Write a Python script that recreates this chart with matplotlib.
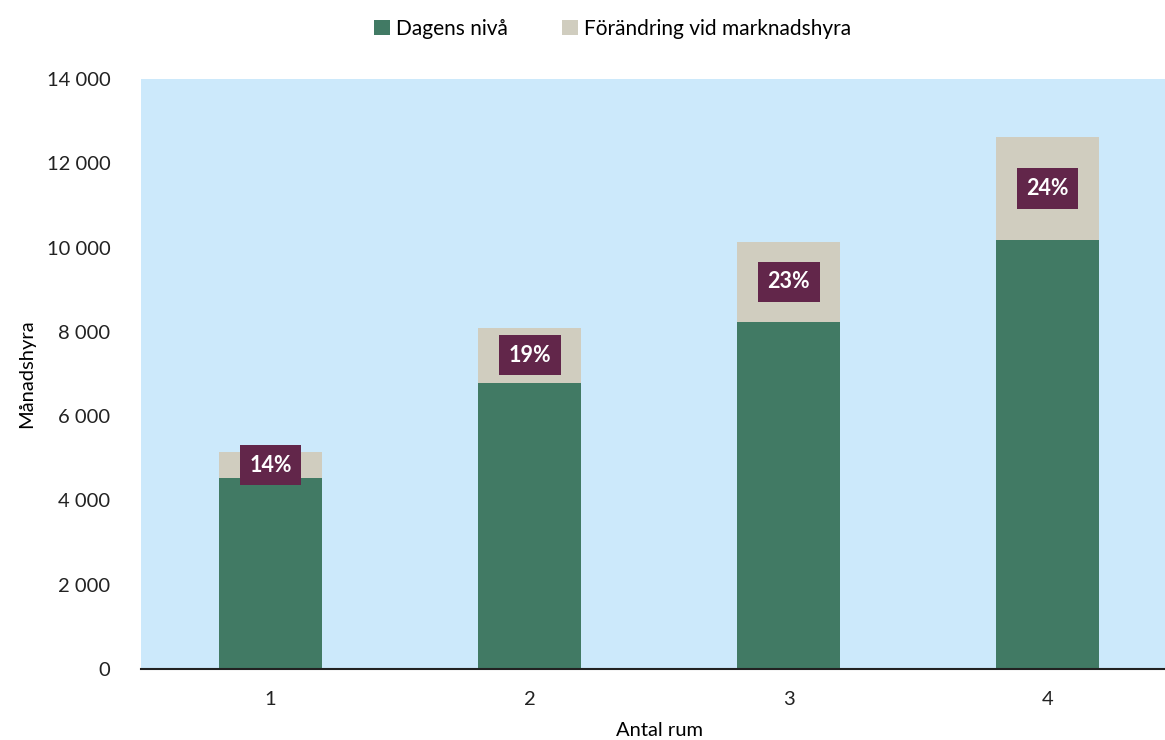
import matplotlib
matplotlib.use('Agg')
import matplotlib.pyplot as plt
import numpy as np

plt.rcParams['font.family'] = ['Lato', 'DejaVu Sans']

rooms = ['1', '2', '3', '4']
dagens = [4530, 6790, 8230, 10170]
forandring = [620, 1310, 1910, 2460]
pct_labels = ['14%', '19%', '23%', '24%']

green = '#417a64'
beige = '#d0cdbf'
label_bg = '#62264a'

fig = plt.figure(figsize=(11.65, 7.4), dpi=100)
# axes går lite utanför högerkanten, som i originalet
ax = fig.add_axes([141 / 1165, 1 - 669 / 740, 1036 / 1165, 590 / 740])
ax.set_facecolor('#cce9fb')

x = np.arange(len(rooms))
ax.bar(x, dagens, width=0.4, color=green, label='Dagens nivå')
ax.bar(x, forandring, width=0.4, bottom=dagens, color=beige,
       label='Förändring vid marknadshyra')

# procentetiketter mitt i den övre delen
for xi, d, f, lab in zip(x, dagens, forandring, pct_labels):
    ax.text(xi, d + f / 2, lab, ha='center', va='center', color='white',
            fontsize=15.5, fontweight='bold',
            bbox=dict(boxstyle='square,pad=0.45', facecolor=label_bg, edgecolor='none'))

ax.set_xlim(-0.5, 3.5)
ax.set_ylim(0, 14000)
ax.set_xticks(x)
ax.set_xticklabels(rooms)
ax.set_yticks(np.arange(0, 14001, 2000))
ax.set_yticklabels([f'{v:,}'.replace(',', ' ') for v in range(0, 14001, 2000)])
ax.tick_params(axis='both', length=0, labelsize=14.5, colors='#222222')
ax.tick_params(axis='x', pad=16)
ax.tick_params(axis='y', pad=22)
for side in ['top', 'right', 'left']:
    ax.spines[side].set_visible(False)
ax.spines['bottom'].set_color('#222222')
ax.spines['bottom'].set_linewidth(1.5)

ax.set_xlabel('Antal rum', fontsize=14.5, labelpad=10)
ax.set_ylabel('Månadshyra', fontsize=14.5, labelpad=8)

fig.legend(loc='upper center', bbox_to_anchor=(0.526, 1.0), ncol=2, frameon=False,
           fontsize=15, handlelength=0.75, handleheight=0.75, handletextpad=0.3,
           columnspacing=2.6)

plt.savefig('out.png', dpi=100)
